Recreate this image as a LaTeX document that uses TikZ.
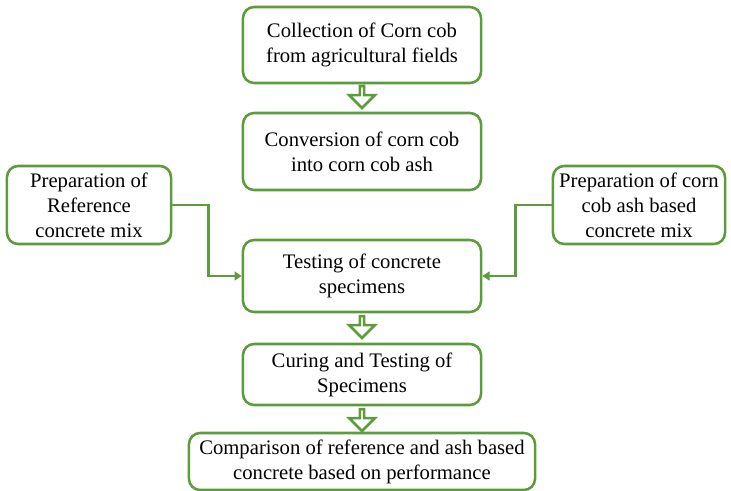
\documentclass[tikz,border=0pt]{standalone}
\usepackage{fontspec}
\setmainfont{Liberation Serif}
\usetikzlibrary{arrows.meta, shapes.arrows}

\definecolor{leafgreen}{RGB}{92,156,60}

\tikzset{
    stagebox/.style={draw=leafgreen, line width=1.8pt, rounded corners=0.28cm,
        align=center, inner sep=0pt, font=\fontsize{14.7pt}{17.8pt}\selectfont},
    flowarrow/.style={single arrow, draw=leafgreen, line width=1.8pt, inner sep=0pt,
        minimum height=0.55cm, minimum width=0.65cm, single arrow head extend=0.17cm,
        shape border rotate=270},
    link/.style={draw=leafgreen, line width=1.8pt,
        -{Triangle[length=0.18cm, width=0.22cm]}}
}

\begin{document}
\begin{tikzpicture}[x=0.025cm, y=-0.025cm]
        \useasboundingbox (0, 0) rectangle (731, 491);
        % main column
        \node [stagebox, minimum width=5.95cm, minimum height=1.9cm] (collect) at (362, 45)
            {Collection of Corn cob\\from agricultural fields};
        \node [stagebox, minimum width=5.95cm, minimum height=1.925cm] (convert) at (362, 151.5)
            {Conversion of corn cob\\into corn cob ash};
        \node [stagebox, minimum width=5.95cm, minimum height=1.8cm] (testing) at (362, 276)
            {Testing of concrete\\specimens};
        \node [stagebox, minimum width=5.95cm, minimum height=1.525cm] (curing) at (362, 374.5)
            {Curing and Testing of\\Specimens};
        \node [stagebox, minimum width=8.65cm, minimum height=1.425cm] (compare) at (362, 461.5)
            {Comparison of reference and ash based\\concrete based on performance};
        % side boxes
        \node [stagebox, minimum width=4.1cm, minimum height=1.95cm] (refmix) at (89, 205)
            {Preparation of\\Reference\\concrete mix};
        \node [stagebox, minimum width=4.3cm, minimum height=1.95cm] (ashmix) at (639, 205)
            {Preparation of corn\\cob ash based\\concrete mix};
        % hollow arrows
        \node [flowarrow] (step1) at (362, 96) {};
        \node [flowarrow] (step2) at (362, 326) {};
        \node [flowarrow] (step3) at (362, 419) {};
        % connectors
        \draw [link] (refmix.east) -- ++(36, 0) |- (testing.west);
        \draw [link] (ashmix.west) -- ++(-36, 0) |- (testing.east);
    \end{tikzpicture}
\end{document}
